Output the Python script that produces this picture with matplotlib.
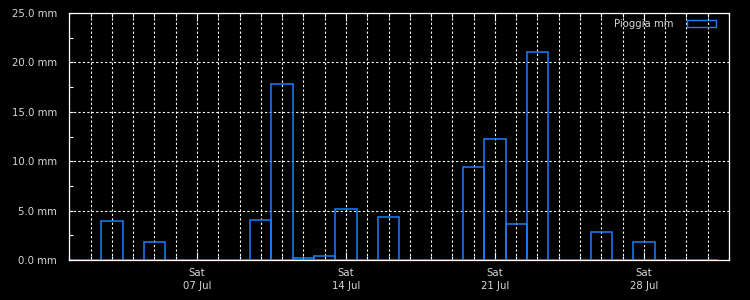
import matplotlib
matplotlib.use("Agg")
import matplotlib.pyplot as plt
from matplotlib.patches import Patch
from matplotlib.ticker import MultipleLocator, FixedLocator

# daily rain, July (index 0 = 01 Jul)
days = list(range(31))
rain = [0, 0, 3.9, 0, 1.8, 0, 0, 0, 0, 4.0,
        17.8, 0.2, 0.4, 5.2, 0, 4.4, 0, 0, 0, 9.4,
        12.2, 3.6, 21.1, 0, 0, 2.8, 0, 1.8, 0, 0, 0]
label_days = [6, 13, 20, 27]
label_text = ["Sat\n07 Jul", "Sat\n14 Jul", "Sat\n21 Jul", "Sat\n28 Jul"]

blue = "#1a7fff"
fg = "#d8d8d8"

fig = plt.figure(figsize=(7.5, 3), dpi=100, facecolor="black")
ax = fig.add_axes([0.0924, 0.1333, 0.8796, 0.8234], facecolor="black")

ax.bar(days, rain, width=1.0, fill=False, edgecolor=blue, linewidth=1.1, zorder=3)

ax.set_xlim(0, 31)
ax.set_ylim(0, 25)

# grid: every day + every 5 mm, dotted white
ax.xaxis.set_major_locator(FixedLocator(label_days))
ax.xaxis.set_minor_locator(MultipleLocator(1))
ax.set_xticklabels(label_text, color=fg, fontsize=7.3, linespacing=1.3)
ax.yaxis.set_major_locator(MultipleLocator(5))
ax.yaxis.set_minor_locator(MultipleLocator(2.5))
ax.set_yticklabels(["%.1f mm" % v for v in ax.get_yticks()], color=fg, fontsize=7.3)

ax.grid(True, which="both", axis="x", color="white", linestyle=(0, (2, 2)), linewidth=0.8, zorder=1)
ax.grid(True, which="major", axis="y", color="white", linestyle=(0, (2, 2)), linewidth=0.8, zorder=1)

ax.tick_params(axis="x", which="major", direction="in", length=6, width=0.8, color="white",
               top=True, bottom=True, pad=6)
ax.tick_params(axis="x", which="minor", direction="in", length=3, width=0.8, color="white",
               top=True, bottom=True)
ax.tick_params(axis="y", which="both", direction="in", length=3, width=0.8, color="white",
               left=True, right=False, pad=9)

for s in ax.spines.values():
    s.set_color("white")
    s.set_linewidth(0.9)
    s.set_zorder(4)

leg = ax.legend(handles=[Patch(fill=False, edgecolor=blue, linewidth=1.0, label="Pioggia mm")],
                loc="upper right", bbox_to_anchor=(0.98, 0.975), frameon=False,
                markerfirst=False, fontsize=7.3, borderpad=0, borderaxespad=0,
                handlelength=2.8, handleheight=0.6, handletextpad=1.4, labelcolor=fg)

fig.savefig("out.png", dpi=100, facecolor="black")
